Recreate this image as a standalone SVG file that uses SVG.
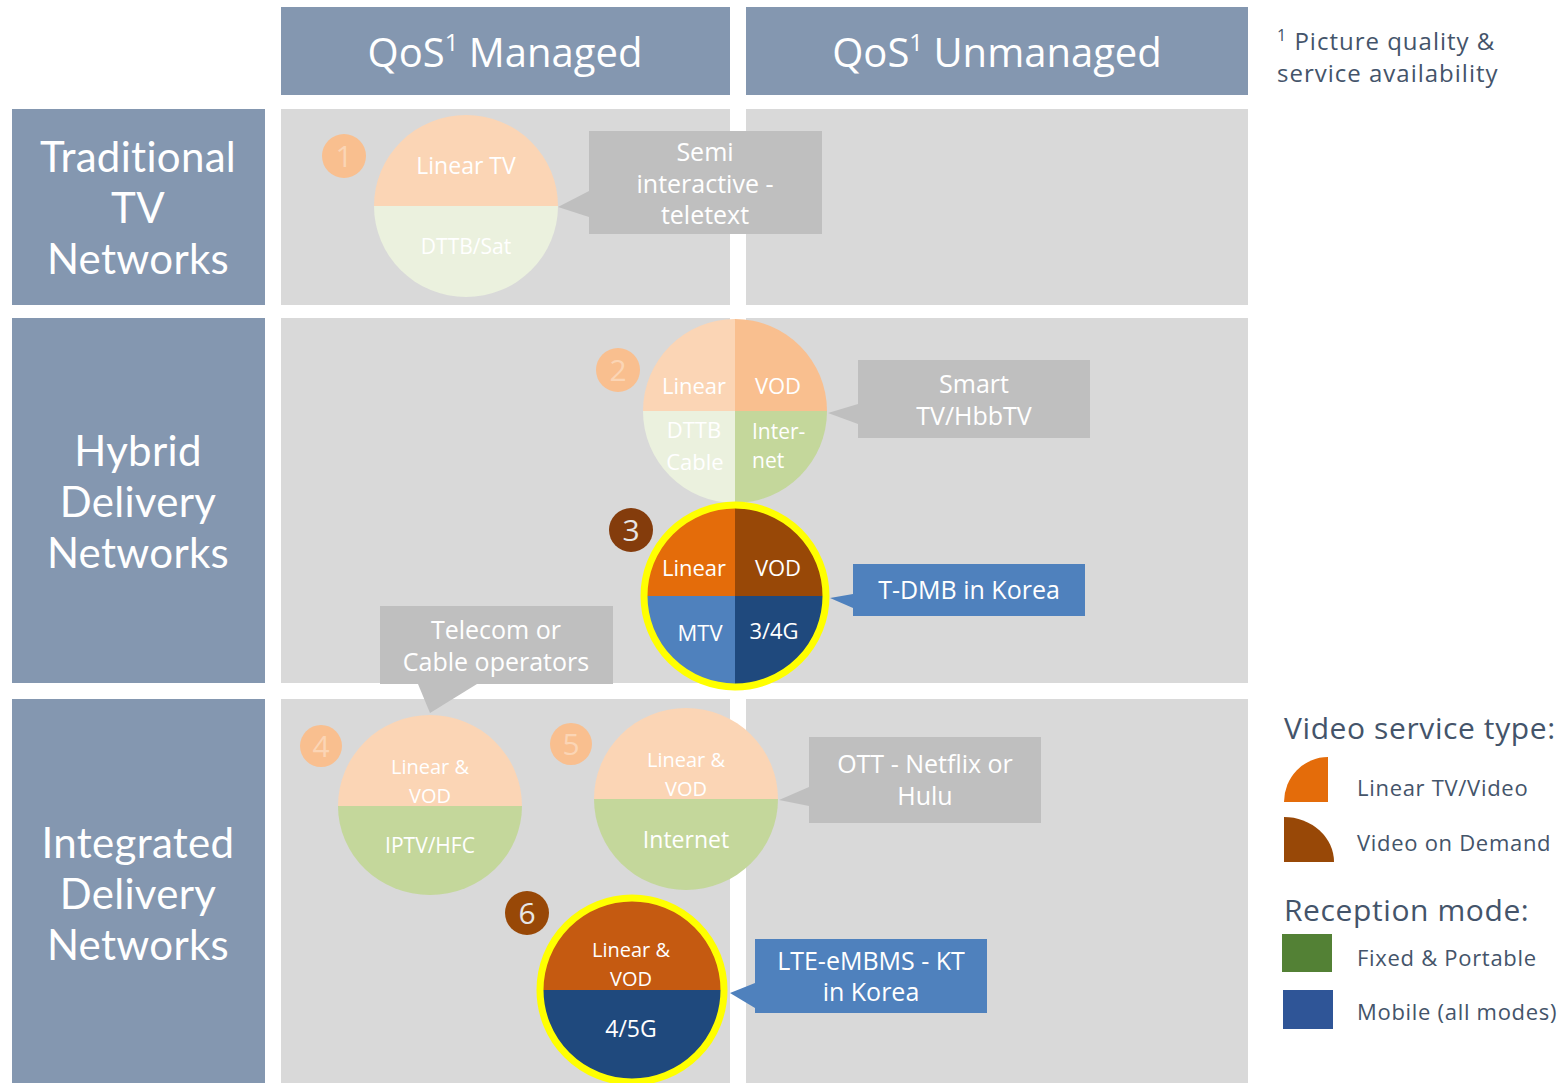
<svg xmlns="http://www.w3.org/2000/svg" width="1566" height="1083" viewBox="0 0 1566 1083">
<style>
.hdr{fill:#8497b0}
.cell{fill:#d9d9d9}
.co{fill:#bfbfbf}
.cb{fill:#4f81bd}
.t{font-family:'Open Sans','Liberation Sans',sans-serif;fill:#fff;text-anchor:middle}
.d{font-family:'Open Sans','Liberation Sans',sans-serif;fill:#44546a}
.h{font-size:40px}
.rl{font-family:Lato,'Open Sans',sans-serif;font-size:42px;letter-spacing:0.3px}
.c{font-size:25px}
.s{font-size:22px}
.b{font-size:30px}
.lg{font-size:22px;letter-spacing:0.7px}
.ring{fill:none;stroke:#ffff00;stroke-width:7}
</style>
<rect width="1566" height="1083" fill="#ffffff"/>

<g id="grid">
  <rect class="cell" x="281" y="109" width="449" height="196"/>
  <rect class="cell" x="746" y="109" width="502" height="196"/>
  <rect class="cell" x="281" y="318" width="449" height="365"/>
  <rect class="cell" x="746" y="318" width="502" height="365"/>
  <rect class="cell" x="281" y="699" width="449" height="384"/>
  <rect class="cell" x="746" y="699" width="502" height="384"/>
</g>

<g id="header-managed">
  <rect class="hdr" x="281" y="7" width="449" height="88"/>
  <text class="t h" x="505" y="67">QoS<tspan font-size="24" dy="-16">1</tspan><tspan dy="16"> Managed</tspan></text>
</g>
<g id="header-unmanaged">
  <rect class="hdr" x="746" y="7" width="502" height="88"/>
  <text class="t h" x="997" y="67">QoS<tspan font-size="24" dy="-16">1</tspan><tspan dy="16"> Unmanaged</tspan></text>
</g>

<g id="footnote">
  <text class="d" font-size="24" letter-spacing="1" x="1277" y="50"><tspan font-size="16" dy="-9">1</tspan><tspan dy="9"> Picture quality &amp;</tspan></text>
  <text class="d" font-size="24" letter-spacing="1" x="1277" y="82">service availability</text>
</g>

<g id="row-traditional">
  <rect class="hdr" x="12" y="109" width="253" height="196"/>
  <text class="t rl" x="138" y="172">Traditional</text>
  <text class="t rl" x="138" y="223">TV</text>
  <text class="t rl" x="138" y="274">Networks</text>
</g>
<g id="row-hybrid">
  <rect class="hdr" x="12" y="318" width="253" height="365"/>
  <text class="t rl" x="138" y="466">Hybrid</text>
  <text class="t rl" x="138" y="517">Delivery</text>
  <text class="t rl" x="138" y="568">Networks</text>
</g>
<g id="row-integrated">
  <rect class="hdr" x="12" y="699" width="253" height="384"/>
  <text class="t rl" x="138" y="858">Integrated</text>
  <text class="t rl" x="138" y="909">Delivery</text>
  <text class="t rl" x="138" y="960">Networks</text>
</g>

<g id="connectors">
  <polygon class="co" points="589,191 558,207 589,217"/>
  <polygon class="co" points="858,404 828,413 858,424"/>
  <polygon class="cb" points="853,594 830,598 853,608"/>
  <polygon class="co" points="418,684 430,713 477,684"/>
  <polygon class="co" points="809,787 779,800 809,806"/>
  <polygon class="cb" points="755,983 730,993 755,1008"/>
</g>

<g id="node1">
  <path d="M374,206 A92,91 0 0 1 558,206 Z" fill="#fbd5b5"/>
  <path d="M374,206 A92,91 0 0 0 558,206 Z" fill="#ebf1de"/>
  <text class="t" font-size="23" x="466" y="174">Linear TV</text>
  <text class="t" font-size="21" x="466" y="254">DTTB/Sat</text>
</g>
<g id="badge1">
  <circle cx="344" cy="156" r="22" fill="#f9bf8f"/>
  <text class="t b" x="344" y="167" style="fill:#fbd5b5">1</text>
</g>
<g id="callout1">
  <rect class="co" x="589" y="131" width="233" height="103"/>
  <text class="t c" x="705" y="161">Semi</text>
  <text class="t c" x="705" y="193">interactive -</text>
  <text class="t c" x="705" y="224">teletext</text>
</g>

<g id="node2">
  <path d="M735,411 L643,411 A92,92 0 0 1 735,319 Z" fill="#fbd5b5"/>
  <path d="M735,411 L735,319 A92,92 0 0 1 827,411 Z" fill="#f9bf8f"/>
  <path d="M735,411 L827,411 A92,92 0 0 1 735,503 Z" fill="#c4d79b"/>
  <path d="M735,411 L735,503 A92,92 0 0 1 643,411 Z" fill="#ebf1de"/>
  <text class="t s" x="694" y="394">Linear</text>
  <text class="t s" x="778" y="394">VOD</text>
  <text class="t s" x="694" y="438">DTTB</text>
  <text class="t s" x="695" y="470">Cable</text>
  <text class="t" font-size="21" x="752" y="439" style="text-anchor:start">Inter-</text>
  <text class="t" font-size="21" x="752" y="468" style="text-anchor:start">net</text>
</g>
<g id="badge2">
  <circle cx="618" cy="370" r="22" fill="#f9bf8f"/>
  <text class="t b" x="618" y="381" style="fill:#fbd5b5">2</text>
</g>
<g id="callout2">
  <rect class="co" x="858" y="360" width="232" height="78"/>
  <text class="t c" x="974" y="393">Smart</text>
  <text class="t c" x="974" y="425">TV/HbbTV</text>
</g>

<g id="node3">
  <path d="M735,596 L644,596 A91,91 0 0 1 735,505 Z" fill="#e46c0a"/>
  <path d="M735,596 L735,505 A91,91 0 0 1 826,596 Z" fill="#984807"/>
  <path d="M735,596 L826,596 A91,91 0 0 1 735,687 Z" fill="#1f497d"/>
  <path d="M735,596 L735,687 A91,91 0 0 1 644,596 Z" fill="#4f81bd"/>
  <circle class="ring" cx="735" cy="596" r="91"/>
  <text class="t s" x="694" y="576">Linear</text>
  <text class="t s" x="778" y="576">VOD</text>
  <text class="t s" x="700" y="641">MTV</text>
  <text class="t s" x="774" y="639">3/4G</text>
</g>
<g id="badge3">
  <circle cx="631" cy="530" r="22" fill="#843c0c"/>
  <text class="t b" x="631" y="541" style="fill:#e6e6e6">3</text>
</g>
<g id="callout3">
  <rect class="cb" x="853" y="564" width="232" height="52"/>
  <text class="t c" x="969" y="599">T-DMB in Korea</text>
</g>

<g id="callout-telecom">
  <rect class="co" x="380" y="606" width="233" height="78"/>
  <text class="t c" x="496" y="639">Telecom or</text>
  <text class="t c" x="496" y="671">Cable operators</text>
</g>

<g id="node4">
  <path d="M338,806 A92,91 0 0 1 522,806 Z" fill="#fbd5b5"/>
  <path d="M338,806 A92,89 0 0 0 522,806 Z" fill="#c4d79b"/>
  <text class="t" font-size="20" x="430" y="774">Linear &amp;</text>
  <text class="t" font-size="20" x="430" y="803">VOD</text>
  <text class="t" font-size="21" x="430" y="853">IPTV/HFC</text>
</g>
<g id="badge4">
  <circle cx="321" cy="746" r="21" fill="#f9bf8f"/>
  <text class="t b" x="321" y="757" style="fill:#fbd5b5">4</text>
</g>

<g id="node5">
  <path d="M594,799 A92,91 0 0 1 778,799 Z" fill="#fbd5b5"/>
  <path d="M594,799 A92,91 0 0 0 778,799 Z" fill="#c4d79b"/>
  <text class="t" font-size="20" x="686" y="767">Linear &amp;</text>
  <text class="t" font-size="20" x="686" y="796">VOD</text>
  <text class="t" font-size="23" x="686" y="848">Internet</text>
</g>
<g id="badge5">
  <circle cx="571" cy="744" r="21" fill="#f9bf8f"/>
  <text class="t b" x="571" y="755" style="fill:#fbd5b5">5</text>
</g>
<g id="callout5">
  <rect class="co" x="809" y="737" width="232" height="86"/>
  <text class="t c" x="925" y="773">OTT - Netflix or</text>
  <text class="t c" x="925" y="805">Hulu</text>
</g>

<g id="node6">
  <path d="M540,990 A92,92 0 0 1 724,990 Z" fill="#c55a11"/>
  <path d="M540,990 A92,92 0 0 0 724,990 Z" fill="#1f497d"/>
  <circle class="ring" cx="632" cy="990" r="92"/>
  <text class="t" font-size="20" x="631" y="957">Linear &amp;</text>
  <text class="t" font-size="20" x="631" y="986">VOD</text>
  <text class="t" font-size="23" x="631" y="1037">4/5G</text>
</g>
<g id="badge6">
  <circle cx="527" cy="913" r="22" fill="#984807"/>
  <text class="t b" x="527" y="924" style="fill:#e6e6e6">6</text>
</g>
<g id="callout6">
  <rect class="cb" x="755" y="939" width="232" height="74"/>
  <text class="t c" x="871" y="970">LTE-eMBMS - KT</text>
  <text class="t c" x="871" y="1001">in Korea</text>
</g>

<g id="legend">
  <text class="d" font-size="30" letter-spacing="0.6" x="1284" y="739">Video service type:</text>
  <path d="M1284,802 A44,45 0 0 1 1328,757 L1328,802 Z" fill="#e46c0a"/>
  <text class="d lg" x="1357" y="796">Linear TV/Video</text>
  <path d="M1284,817 A50,45 0 0 1 1334,862 L1284,862 Z" fill="#984807"/>
  <text class="d lg" x="1357" y="851">Video on Demand</text>
  <text class="d" font-size="30" letter-spacing="0.6" x="1284" y="921">Reception mode:</text>
  <rect x="1282" y="934" width="50" height="38" fill="#538135"/>
  <text class="d lg" x="1357" y="966">Fixed &amp; Portable</text>
  <rect x="1283" y="990" width="50" height="39" fill="#2f5597"/>
  <text class="d lg" x="1357" y="1020">Mobile (all modes)</text>
</g>
</svg>
